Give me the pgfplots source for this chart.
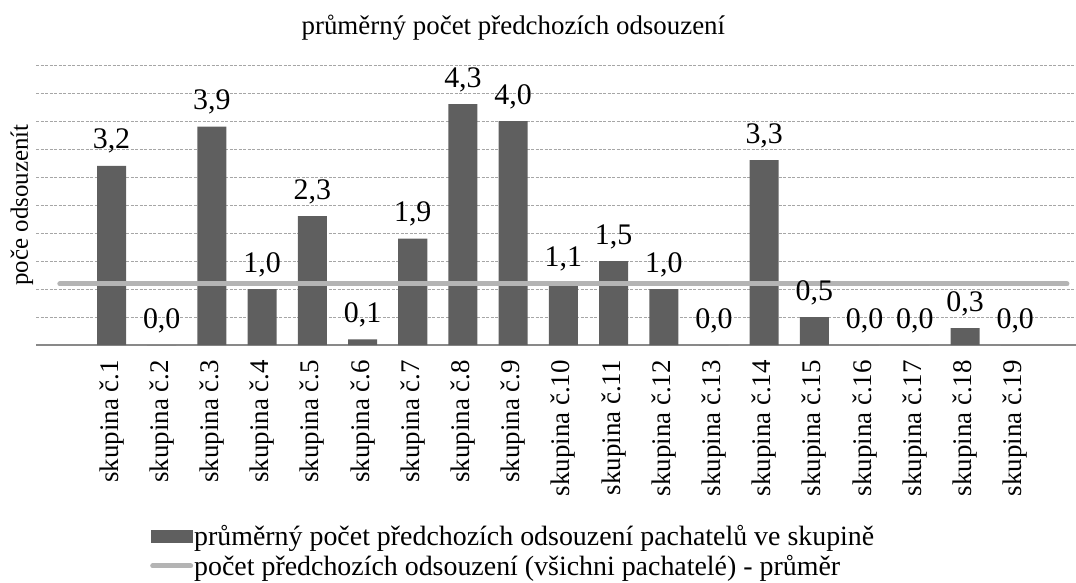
\documentclass[border=0pt]{standalone}
\usepackage{fontspec}
\setmainfont{Liberation Serif}
\usepackage{pgfplots}
\pgfplotsset{compat=1.18}

\definecolor{barcol}{HTML}{5F5F5F}
\definecolor{avgcol}{HTML}{B4B4B4}
\definecolor{gridcol}{HTML}{A6A6A6}
\definecolor{axcol}{HTML}{898989}

\newcommand{\bigfont}{\fontsize{27}{32}\selectfont}

\begin{document}
\begin{tikzpicture}
\begin{axis}[
    name=ax, at={(0,0)}, anchor=south west,
    width=1040bp, height=280bp, scale only axis,
    xmin=-1.504, xmax=19.21,
    ymin=0, ymax=5,
    axis x line*=bottom,
    axis y line*=left,
    x axis line style={draw=axcol, line width=2bp},
    y axis line style={draw=none},
    ytick={0.5,1,...,5},
    yticklabels={},
    ymajorgrids,
    grid style={draw=gridcol, line width=0.8bp, dash pattern=on 3bp off 1.5bp},
    major tick length=0pt,
    xtick={0,...,18},
    xticklabels={skupina č.1,skupina č.2,skupina č.3,skupina č.4,skupina č.5,
        skupina č.6,skupina č.7,skupina č.8,skupina č.9,skupina č.10,
        skupina č.11,skupina č.12,skupina č.13,skupina č.14,skupina č.15,
        skupina č.16,skupina č.17,skupina č.18,skupina č.19},
    xticklabel style={rotate=90, anchor=east, inner sep=0pt, font=\bigfont},
    xticklabel shift=15bp,
    title={průměrný počet předchozích odsouzení},
    title style={at={(axis description cs:0.459,1.089)}, anchor=base,
        inner sep=0pt, font=\bigfont},
    ylabel={poče odsouzenít},
    ylabel style={at={(axis description cs:-0.0135,0.5)}, anchor=center,
        inner sep=0pt, font=\fontsize{25}{30}\selectfont},
    legend style={at={(axis description cs:0.1096,-0.64)}, anchor=north west,
        draw=none, fill=none, inner sep=0pt,
        font=\fontsize{28}{33}\selectfont, nodes={inner sep=1bp},
        /tikz/row sep=6bp},
    legend cell align=left,
    /pgf/number format/assume math mode=true,
    clip=false,
]
\addplot[ybar, bar width=0.578, fill=barcol, draw=none,
    nodes near coords={\pgfmathprintnumber[fixed,fixed zerofill,precision=1,use comma]{\pgfplotspointmeta}},
    every node near coord/.append style={anchor=base, yshift=17bp, inner sep=0pt,
        font=\fontsize{30}{36}\selectfont, text=black},
    legend image code/.code={\fill[barcol] (0bp,-6.5bp) rectangle (42bp,6.5bp);}
] coordinates {
    (0,3.2) (1,0.0) (2,3.9) (3,1.0) (4,2.3) (5,0.1) (6,1.9) (7,4.3) (8,4.0)
    (9,1.1) (10,1.5) (11,1.0) (12,0.0) (13,3.3) (14,0.5) (15,0.0) (16,0.0)
    (17,0.3) (18,0.0)
};
\addlegendentry{průměrný počet předchozích odsouzení pachatelů ve skupině}
\addplot[avgcol, line width=5bp, line cap=round, mark=none,
    legend image code/.code={\draw[avgcol, line width=5bp, line cap=round] (2bp,0bp) -- (40bp,0bp);}
] coordinates {
    (-1.03,1.09) (19.03,1.09)
};
\addlegendentry{počet předchozích odsouzení (všichni pachatelé) - průměr}
\end{axis}
\pgfresetboundingbox
\path (-36bp,-238bp) rectangle (1040bp,345bp);
\end{tikzpicture}
\end{document}
